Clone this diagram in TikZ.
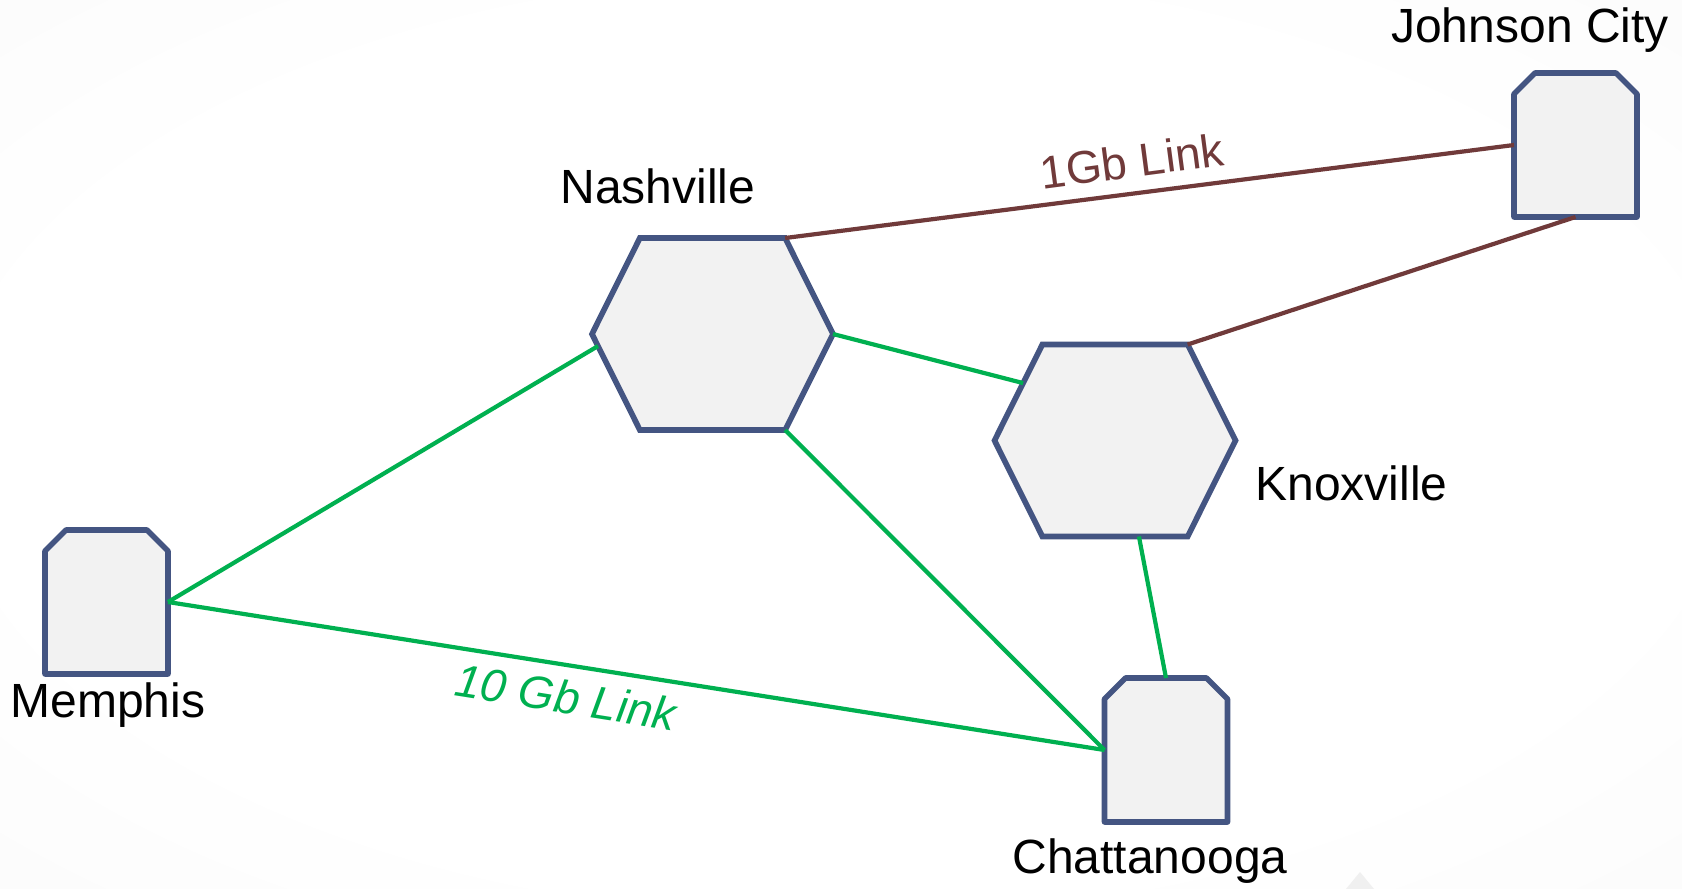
\documentclass[tikz,border=0pt]{standalone}
\usepackage{fontspec}
\setmainfont{Liberation Sans}
\usetikzlibrary{shapes.symbols}
\definecolor{cityblue}{RGB}{68,85,130}
\definecolor{cityfill}{RGB}{242,242,242}
\definecolor{linkgreen}{RGB}{0,176,80}
\definecolor{linkbrown}{RGB}{112,58,58}
\colorlet{bgmid}{black!3}
\colorlet{bgedge}{black!9}
\pgfdeclareradialshading{bgglow}{\pgfpoint{0bp}{0bp}}{color(0bp)=(white); color(25bp)=(white); color(50bp)=(bgmid); color(72bp)=(bgedge)}
\tikzset{
  hub/.style={
    shape = signal,
    signal to = east and west,
    signal pointer angle = 127,
    minimum width = 120.5pt,
    minimum height = 96pt,
    inner sep = 0pt,
    outer sep = 0pt,
    draw = cityblue,
    line width = 2.8pt,
    fill = cityfill
  },
  site/.style={
    shape = rectangle,
    minimum width = 61.5pt,
    minimum height = 72pt,
    inner sep = 0pt,
    outer sep = 0pt
  },
  siteline/.style={
    draw = cityblue,
    line width = 2.8pt,
    line join = round,
    fill = cityfill
  },
  fastlink/.style={
    draw = linkgreen,
    line width = 2.1pt
  },
  slowlink/.style={
    draw = linkbrown,
    line width = 2.1pt
  },
  city/.style={
    font = \fontsize{24}{28}\selectfont,
    inner sep = 0pt
  },
  linklabel/.style={
    font = \fontsize{23}{28}\selectfont,
    inner sep = 0pt
  }
}

\begin{document}
\begin{tikzpicture}[x=0.5pt, y=-0.5pt]
\useasboundingbox (0,0) rectangle (1682,889);
\shade[shading=bgglow] (0,0) rectangle (1682,889);
\fill[black!6] (1346,889) -- (1360,872) -- (1374,889) -- cycle;

\node[hub]  (nash) at (712.5,334) {};
\node[hub]  (knox) at (1115,440.5) {};
\node[site] (mem)  at (106.5,602) {};
\node[site] (chat) at (1166,750) {};
\node[site] (jc)   at (1575.5,145) {};
\foreach \s in {mem,chat,jc}{
  \draw[siteline] (\s.south west) -- ([yshift=-10.5pt]\s.north west)
    -- ([xshift=10.5pt]\s.north west) -- ([xshift=-10.5pt]\s.north east)
    -- ([yshift=-10.5pt]\s.north east) -- (\s.south east) -- cycle;
}

\draw[slowlink] (nash.north east) -- (jc.west);
\draw[slowlink] (knox.north east) -- (jc.south);
\draw[fastlink] (nash.east) -- (knox.148);
\draw[fastlink] (nash.186) -- (mem.east);
\draw[fastlink] (nash.south east) -- (chat.west);
\draw[fastlink] (mem.east) -- (chat.west);
\draw[fastlink] (knox.-76) -- (chat.north);

\node[city] (nashname) at (658,186) {Nashville};
\node[city, anchor=west] (knoxname) at (1255,483) {Knoxville};
\node[city] (memname) at (108,705) {Memphis};
\node[city] (chatname) at (1150,861) {Chattanooga};
\node[city] (jcname) at (1530,30) {Johnson City};
\node[linklabel, text=linkbrown, rotate=7.5] (slowname) at (1132,161) {1Gb Link};
\node[linklabel, text=linkgreen, rotate=-9] (fastname) at (566,697) {\itshape 10 Gb Link};
\end{tikzpicture}
\end{document}
